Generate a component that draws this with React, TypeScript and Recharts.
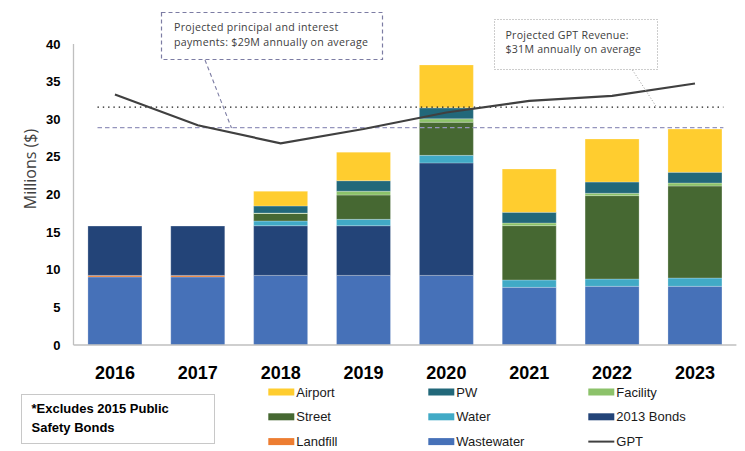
import { ComposedChart, Bar, Line, XAxis, YAxis, ReferenceLine } from 'recharts';

const years = ['2016', '2017', '2018', '2019', '2020', '2021', '2022', '2023'];
const wastewater = [9.05, 9.05, 9.25, 9.25, 9.25, 7.66, 7.8, 7.8];
const landfill = [0.2, 0.2, 0, 0, 0, 0, 0, 0];
const bonds2013 = [6.55, 6.55, 6.6, 6.6, 14.95, 0, 0, 0];
const water = [0, 0, 0.63, 0.85, 1.0, 0.98, 0.97, 1.1];
const street = [0, 0, 1.0, 3.23, 4.4, 7.22, 11.08, 12.23];
const facility = [0, 0, 0.05, 0.5, 0.45, 0.35, 0.31, 0.4];
const pw = [0, 0, 0.95, 1.4, 1.47, 1.42, 1.5, 1.42];
const airport = [0, 0, 1.95, 3.8, 5.7, 5.76, 5.72, 5.75];
const gpt = [33.3, 29.2, 26.8, 28.7, 30.9, 32.45, 33.1, 34.75];

const yTicks = [0, 5, 10, 15, 20, 25, 30, 35, 40];
const avgPayments = 28.9;
const avgGpt = 31.6;

// stacked bottom to top
const series = [
  { key: 'wastewater', name: 'Wastewater', values: wastewater, color: '#4671b8' },
  { key: 'landfill', name: 'Landfill', values: landfill, color: '#ed7d31' },
  { key: 'bonds2013', name: '2013 Bonds', values: bonds2013, color: '#234478' },
  { key: 'water', name: 'Water', values: water, color: '#41aac6' },
  { key: 'street', name: 'Street', values: street, color: '#466832' },
  { key: 'facility', name: 'Facility', values: facility, color: '#8cc26a' },
  { key: 'pw', name: 'PW', values: pw, color: '#22687a' },
  { key: 'airport', name: 'Airport', values: airport, color: '#ffcd2f' },
];

const data = years.map((year, i) => {
  const row: Record<string, number | string> = { year, gpt: gpt[i] };
  series.forEach(s => { row[s.key] = s.values[i]; });
  return row;
});

// legend reads top-left to bottom-right, reversed stack order then GPT
const legendItems = [...series].reverse().map(s => ({ name: s.name, color: s.color, line: false }))
  .concat([{ name: 'GPT', color: '#404040', line: true }]);

const insetLine = (props: any, dash: string, color: string) => {
  const { x1, x2, y1, y2 } = props;
  return <line x1={x1 + 24} x2={x2 - 13} y1={y1} y2={y2} stroke={color} strokeWidth={1.3} strokeDasharray={dash} />;
};

const noteFont = '"Open Sans", Lato, sans-serif';

const App = () => {
  return (
      <div style={{ position: 'absolute', left: 0, top: 0, width: 745, height: 451, background: '#fff' }}>
        <ComposedChart width={745} height={451} data={data} margin={{ top: 44, right: 8.6, left: 0, bottom: 0 }}
                       barCategoryGap="17.4%">
          <XAxis
              dataKey="year"
              height={106}
              tickLine={false}
              tickMargin={15}
              axisLine={{ stroke: '#bfbfbf', strokeWidth: 1.3 }}
              tick={{ fill: '#000', fontSize: 18, fontWeight: 700, fontFamily: '"Liberation Sans", Arial, sans-serif' }}
          />
          <YAxis
              width={73.5}
              domain={[0, 40]}
              ticks={yTicks}
              tickLine={false}
              tickMargin={7}
              axisLine={{ stroke: '#bfbfbf', strokeWidth: 1.3 }}
              tick={{ fill: '#000', fontSize: 13, fontWeight: 700, fontFamily: '"Liberation Sans", Arial, sans-serif' }}
          />
          {series.map(s => (
              <Bar key={s.key} dataKey={s.key} name={s.name} stackId="a" fill={s.color}
                   stroke="#ffffff" strokeOpacity={0.35} strokeWidth={0.7} isAnimationActive={false} />
          ))}
          <ReferenceLine y={avgGpt} shape={(p: any) => insetLine(p, '1.4 3.9', '#1a1a1a')} />
          <ReferenceLine y={avgPayments} shape={(p: any) => insetLine(p, '4.5 3', '#9595bd')} />
          <Line type="linear" dataKey="gpt" name="GPT" stroke="#404040" strokeWidth={2.2} dot={false}
                activeDot={false} isAnimationActive={false} />
        </ComposedChart>

        <svg width={745} height={451} style={{ position: 'absolute', left: 0, top: 0, pointerEvents: 'none' }}>
          <text transform="translate(36,169) rotate(-90)" textAnchor="middle" fontSize={16}
                fontFamily={'"Open Sans", sans-serif'} fill="#404040">Millions ($)</text>

          {/* payments callout */}
          <rect x={161.5} y={12.5} width={221} height={47} fill="#fff" stroke="#7c7ca3" strokeWidth={1.2} strokeDasharray="4 3" />
          <line x1={205} y1={60} x2={231.5} y2={128} stroke="#7c7ca3" strokeWidth={1.1} strokeDasharray="4 3" />
          <text x={174} y={31} fontSize={10.6} letterSpacing={0.3} fontFamily={noteFont} fill="#404040">Projected principal and interest</text>
          <text x={174} y={45.5} fontSize={10.6} letterSpacing={0.3} fontFamily={noteFont} fill="#404040">payments: $29M annually on average</text>

          {/* GPT callout */}
          <rect x={494.5} y={19.5} width={163} height={50} fill="#fff" stroke="#9a9a9a" strokeWidth={1} strokeDasharray="1 2" />
          <line x1={632.5} y1={70} x2={656.5} y2={107} stroke="#9a9a9a" strokeWidth={1} strokeDasharray="1 2" />
          <text x={505.5} y={38.5} fontSize={10.6} letterSpacing={0.25} fontFamily={noteFont} fill="#404040">Projected GPT Revenue:</text>
          <text x={505.5} y={53.2} fontSize={10.6} letterSpacing={0.25} fontFamily={noteFont} fill="#404040">$31M annually on average</text>

          {/* footnote */}
          <rect x={21.5} y={394.5} width={193} height={49} fill="#fff" stroke="#c8c8c8" strokeWidth={1} />
          <text x={31.5} y={413} fontSize={13} fontWeight={700} fontFamily={'"Liberation Sans", Arial, sans-serif'} fill="#000">*Excludes 2015 Public</text>
          <text x={31.5} y={431.5} fontSize={13} fontWeight={700} fontFamily={'"Liberation Sans", Arial, sans-serif'} fill="#000">Safety Bonds</text>

          {/* legend */}
          {legendItems.map((item, i) => {
            const col = i % 3;
            const row = Math.floor(i / 3);
            const x = 268.3 + col * 160;
            const cy = 392 + row * 24.8;
            return (
                <g key={item.name}>
                  {item.line
                      ? <line x1={x} x2={x + 26} y1={cy} y2={cy} stroke={item.color} strokeWidth={2} />
                      : <rect x={x} y={cy - 3.5} width={26} height={7} fill={item.color} />}
                  <text x={x + 28} y={cy + 4.5} fontSize={13} fontFamily={'"Liberation Sans", Arial, sans-serif'} fill="#1a1a1a">{item.name}</text>
                </g>
            );
          })}
        </svg>
      </div>
  );
};

export default App;
